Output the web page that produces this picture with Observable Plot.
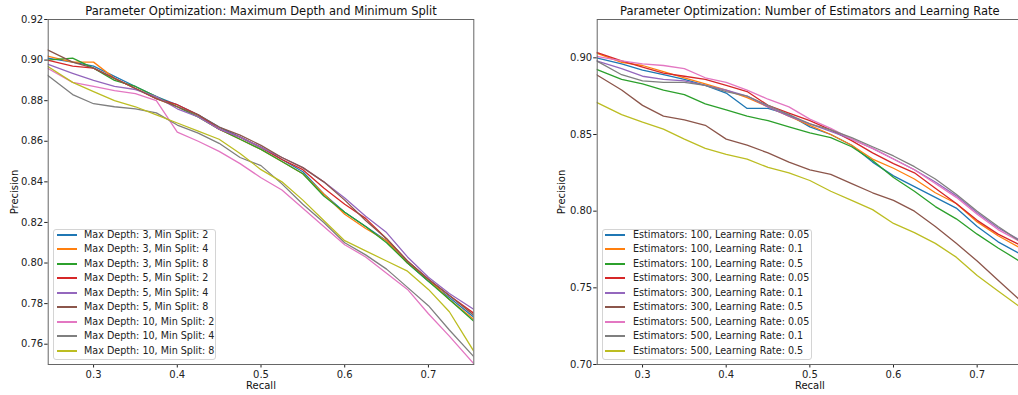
<!DOCTYPE html>
<html>
<head>
<meta charset="utf-8">
<script src="https://cdn.jsdelivr.net/npm/d3@7"></script>
<script src="https://cdn.jsdelivr.net/npm/@observablehq/plot@0.6"></script>
<style>
html, body { margin: 0; padding: 0; background: #fff; overflow: hidden; }
#root { position: relative; width: 1018px; height: 395px; overflow: hidden; font-family: "DejaVu Sans", sans-serif; }
.panel { position: absolute; top: 0; }
.legend { position: absolute; box-sizing: border-box; border: 1px solid #d4d4d4; border-radius: 3px; background: rgba(255,255,255,0.8); font-size: 9.6px; color: #222; }
.row { position: absolute; left: 0; height: 14px; line-height: 14px; white-space: nowrap; }
.swatch { position: absolute; width: 20px; height: 2px; top: 6px; }
.lbl { position: absolute; top: 0; }
</style>
</head>
<body>
<div id="root"></div>
<script>
// ---------- shared axis data ----------
const recall = [0.245, 0.275, 0.3, 0.325, 0.35, 0.375, 0.4, 0.425, 0.45, 0.475, 0.5, 0.525, 0.55, 0.575, 0.6, 0.625, 0.65, 0.675, 0.7, 0.725, 0.755];
const xTicks = [0.3, 0.4, 0.5, 0.6, 0.7];
const tab10 = ["#1f77b4", "#ff7f0e", "#2ca02c", "#d62728", "#9467bd", "#8c564b", "#e377c2", "#7f7f7f", "#bcbd22"];

// ---------- left panel: max depth / min split ----------
const leftTitle = "Parameter Optimization: Maximum Depth and Minimum Split";
const leftSeries = [
  "Max Depth: 3, Min Split: 2", "Max Depth: 3, Min Split: 4", "Max Depth: 3, Min Split: 8",
  "Max Depth: 5, Min Split: 2", "Max Depth: 5, Min Split: 4", "Max Depth: 5, Min Split: 8",
  "Max Depth: 10, Min Split: 2", "Max Depth: 10, Min Split: 4", "Max Depth: 10, Min Split: 8"
];
const leftYTicks = [0.76, 0.78, 0.80, 0.82, 0.84, 0.86, 0.88, 0.90, 0.92];
const md3ms2  = [0.901, 0.899, 0.897, 0.892, 0.887, 0.882, 0.878, 0.873, 0.867, 0.862, 0.857, 0.851, 0.845, 0.834, 0.825, 0.818, 0.811, 0.800, 0.791, 0.783, 0.773];
const md3ms4  = [0.902, 0.899, 0.899, 0.891, 0.886, 0.881, 0.877, 0.872, 0.866, 0.861, 0.856, 0.850, 0.844, 0.834, 0.824, 0.817, 0.811, 0.800, 0.792, 0.782, 0.772];
const md3ms8  = [0.900, 0.901, 0.896, 0.890, 0.887, 0.882, 0.877, 0.872, 0.866, 0.861, 0.856, 0.850, 0.844, 0.833, 0.825, 0.818, 0.810, 0.800, 0.791, 0.782, 0.771];
const md5ms2  = [0.900, 0.897, 0.896, 0.891, 0.886, 0.881, 0.878, 0.873, 0.866, 0.862, 0.857, 0.851, 0.846, 0.837, 0.829, 0.822, 0.812, 0.801, 0.792, 0.784, 0.775];
const md5ms4  = [0.898, 0.8935, 0.890, 0.887, 0.8855, 0.882, 0.876, 0.872, 0.866, 0.862, 0.857, 0.852, 0.847, 0.840, 0.832, 0.823, 0.815, 0.803, 0.793, 0.785, 0.777];
const md5ms8  = [0.905, 0.899, 0.896, 0.891, 0.886, 0.881, 0.877, 0.873, 0.867, 0.863, 0.858, 0.852, 0.847, 0.840, 0.831, 0.821, 0.812, 0.801, 0.792, 0.784, 0.774];
const md10ms2 = [0.896, 0.889, 0.887, 0.885, 0.8835, 0.880, 0.8645, 0.860, 0.855, 0.849, 0.842, 0.836, 0.827, 0.818, 0.809, 0.803, 0.795, 0.787, 0.775, 0.764, 0.750];
const md10ms4 = [0.8925, 0.883, 0.8785, 0.877, 0.876, 0.874, 0.868, 0.864, 0.859, 0.852, 0.848, 0.839, 0.829, 0.820, 0.810, 0.804, 0.797, 0.788, 0.779, 0.767, 0.7535];
const md10ms8 = [0.897, 0.889, 0.8845, 0.880, 0.877, 0.873, 0.869, 0.865, 0.861, 0.854, 0.846, 0.840, 0.831, 0.821, 0.811, 0.806, 0.801, 0.796, 0.787, 0.776, 0.756];

// ---------- right panel: estimators / learning rate ----------
const rightTitle = "Parameter Optimization: Number of Estimators and Learning Rate";
const rightSeries = [
  "Estimators: 100, Learning Rate: 0.05", "Estimators: 100, Learning Rate: 0.1", "Estimators: 100, Learning Rate: 0.5",
  "Estimators: 300, Learning Rate: 0.05", "Estimators: 300, Learning Rate: 0.1", "Estimators: 300, Learning Rate: 0.5",
  "Estimators: 500, Learning Rate: 0.05", "Estimators: 500, Learning Rate: 0.1", "Estimators: 500, Learning Rate: 0.5"
];
const rightYTicks = [0.70, 0.75, 0.80, 0.85, 0.90];
const e100lr005 = [0.900, 0.896, 0.892, 0.889, 0.886, 0.882, 0.877, 0.867, 0.867, 0.863, 0.855, 0.850, 0.843, 0.832, 0.823, 0.816, 0.809, 0.802, 0.790, 0.780, 0.771];
const e100lr01  = [0.903, 0.897, 0.895, 0.891, 0.887, 0.883, 0.879, 0.874, 0.868, 0.862, 0.856, 0.850, 0.843, 0.834, 0.828, 0.821, 0.812, 0.805, 0.793, 0.784, 0.775];
const e100lr05  = [0.8925, 0.886, 0.883, 0.879, 0.876, 0.870, 0.866, 0.862, 0.859, 0.855, 0.851, 0.848, 0.842, 0.833, 0.822, 0.813, 0.803, 0.795, 0.785, 0.776, 0.766];
const e300lr005 = [0.9035, 0.898, 0.894, 0.890, 0.888, 0.886, 0.882, 0.878, 0.869, 0.864, 0.859, 0.853, 0.846, 0.838, 0.831, 0.825, 0.815, 0.805, 0.794, 0.785, 0.777];
const e300lr01  = [0.898, 0.893, 0.888, 0.886, 0.885, 0.882, 0.879, 0.875, 0.868, 0.862, 0.857, 0.852, 0.847, 0.841, 0.834, 0.827, 0.819, 0.810, 0.799, 0.789, 0.780];
const e300lr05  = [0.889, 0.879, 0.869, 0.862, 0.8595, 0.856, 0.847, 0.843, 0.838, 0.832, 0.827, 0.824, 0.818, 0.812, 0.807, 0.800, 0.790, 0.779, 0.7675, 0.755, 0.740];
const e500lr005 = [0.901, 0.898, 0.896, 0.895, 0.893, 0.887, 0.884, 0.879, 0.873, 0.868, 0.860, 0.854, 0.847, 0.841, 0.834, 0.827, 0.818, 0.809, 0.798, 0.788, 0.779];
const e500lr01  = [0.898, 0.889, 0.885, 0.884, 0.884, 0.882, 0.878, 0.875, 0.869, 0.863, 0.857, 0.853, 0.848, 0.842, 0.836, 0.829, 0.821, 0.811, 0.800, 0.790, 0.779];
const e500lr05  = [0.871, 0.863, 0.858, 0.8535, 0.847, 0.841, 0.837, 0.834, 0.8285, 0.825, 0.820, 0.813, 0.807, 0.801, 0.792, 0.786, 0.779, 0.770, 0.758, 0.748, 0.736];

const leftValues = [md3ms2, md3ms4, md3ms8, md5ms2, md5ms4, md5ms8, md10ms2, md10ms4, md10ms8];
const rightValues = [e100lr005, e100lr01, e100lr05, e300lr005, e300lr01, e300lr05, e500lr005, e500lr01, e500lr05];

function tidy(series, values) {
  const rows = [];
  series.forEach((s, i) => values[i].forEach((p, j) => rows.push({series: s, recall: recall[j], precision: p})));
  return rows;
}

function makePanel(o) {
  const data = tidy(o.series, o.values);
  return Plot.plot({
    width: o.width, height: 395,
    marginLeft: o.marginLeft, marginRight: o.marginRight, marginTop: 19, marginBottom: 31,
    style: {fontFamily: "DejaVu Sans", fontSize: "10px", color: "#222", background: "transparent", overflow: "visible", maxWidth: "none"},
    x: {domain: [0.2458, 0.7542], ticks: xTicks, tickFormat: d3.format(".1f"), tickSize: 3.5, tickPadding: 2.5, label: null},
    y: {domain: o.yDomain, ticks: o.yTicks, tickFormat: d3.format(".2f"), tickSize: 3.5, tickPadding: 1.5, label: null},
    color: {domain: o.series, range: tab10},
    marks: [
      Plot.line(data, {x: "recall", y: "precision", z: "series", stroke: "series", strokeWidth: 1.3, clip: true}),
      Plot.frame({stroke: "#666", strokeWidth: 1}),
      Plot.text([o.title], {text: d => d, frameAnchor: "top", textAnchor: "middle", lineAnchor: "middle", dy: -8, fontSize: 11.5, fill: "#111"}),
      Plot.text(["Recall"], {text: d => d, frameAnchor: "bottom", textAnchor: "middle", lineAnchor: "middle", dy: 21, fill: "#111"}),
      Plot.text(["Precision"], {text: d => d, frameAnchor: "left", textAnchor: "middle", lineAnchor: "middle", dx: o.yLabelDx, rotate: -90, fill: "#111"})
    ]
  });
}

function makeLegend(series, left, width, sampleLeft, textLeft) {
  const box = document.createElement("div");
  box.className = "legend";
  box.style.left = left + "px";
  box.style.top = "229px";
  box.style.width = width + "px";
  box.style.height = "131px";
  series.forEach((s, i) => {
    const row = document.createElement("div");
    row.className = "row";
    row.style.top = Math.round(4.5 + i * 14.55 - 7) + "px";
    const sw = document.createElement("span");
    sw.className = "swatch";
    sw.style.left = sampleLeft + "px";
    sw.style.background = tab10[i];
    const tx = document.createElement("span");
    tx.className = "lbl";
    tx.style.left = textLeft + "px";
    tx.textContent = s;
    row.appendChild(sw);
    row.appendChild(tx);
    box.appendChild(row);
  });
  return box;
}

const root = document.getElementById("root");

const leftWrap = document.createElement("div");
leftWrap.className = "panel";
leftWrap.style.left = "0px";
leftWrap.appendChild(makePanel({
  series: leftSeries, values: leftValues, title: leftTitle,
  yDomain: [0.75, 0.92], yTicks: leftYTicks,
  width: 480, marginLeft: 47.7, marginRight: 6.7, yLabelDx: -33
}));
root.appendChild(leftWrap);

const rightWrap = document.createElement("div");
rightWrap.className = "panel";
rightWrap.style.left = "540px";
rightWrap.appendChild(makePanel({
  series: rightSeries, values: rightValues, title: rightTitle,
  yDomain: [0.70, 0.925], yTicks: rightYTicks,
  width: 482, marginLeft: 56.7, marginRight: 0, yLabelDx: -35
}));
root.appendChild(rightWrap);

root.appendChild(makeLegend(leftSeries, 53, 163, 3, 30));
root.appendChild(makeLegend(rightSeries, 602, 210, 2, 30));
</script>
</body>
</html>
